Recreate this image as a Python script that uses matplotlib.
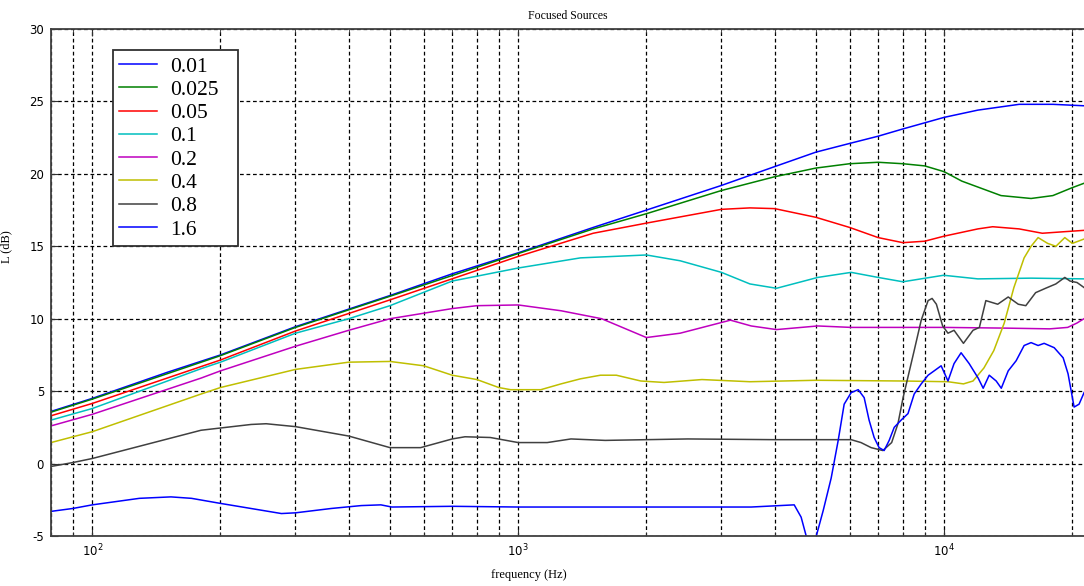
import numpy as np
import matplotlib.pyplot as plt
from matplotlib.ticker import LogLocator, NullFormatter, MultipleLocator

plt.rcParams['axes.unicode_minus'] = False

# source sizes (legend) and MATLAB-style colours
labels = ['0.01', '0.025', '0.05', '0.1', '0.2', '0.4', '0.8', '1.6']
colors = ['#0000ff', '#008000', '#ff0000', '#00bfbf', '#bf00bf', '#bfbf00', '#404040', '#0000ff']

# curves: frequency (Hz) and level L (dB)
f_001 = [80, 100, 150, 200, 300, 500, 700, 1000, 1500, 2000, 3000, 4000, 5000, 6000,
         7000, 8000, 10000, 12000, 15000, 18000, 21300]
L_001 = [3.6, 4.5, 6.3, 7.5, 9.45, 11.6, 13.1, 14.55, 16.3, 17.5, 19.2, 20.5, 21.5, 22.1,
         22.6, 23.1, 23.9, 24.4, 24.8, 24.8, 24.7]

f_0025 = [80, 100, 200, 300, 500, 1000, 1500, 2000, 3000, 4000, 5000, 6000, 7000, 8000,
          9000, 10000, 11000, 13600, 16000, 18000, 20000, 21300]
L_0025 = [3.55, 4.45, 7.45, 9.4, 11.55, 14.5, 16.2, 17.25, 18.85, 19.8, 20.4, 20.7, 20.8, 20.7,
          20.55, 20.15, 19.5, 18.5, 18.3, 18.5, 19.05, 19.35]

f_005 = [80, 100, 200, 300, 500, 1000, 1500, 2000, 3000, 3500, 4000, 5000, 6000, 7000,
         8000, 9000, 10000, 12000, 13000, 15000, 17000, 19000, 21300]
L_005 = [3.3, 4.15, 7.15, 9.15, 11.3, 14.3, 15.9, 16.6, 17.55, 17.65, 17.6, 17.0, 16.3, 15.6,
         15.25, 15.35, 15.7, 16.2, 16.35, 16.2, 15.9, 16.0, 16.1]

f_01 = [80, 100, 180, 200, 300, 400, 500, 700, 1000, 1400, 2000, 2400, 3000, 3500, 4040,
        5050, 6050, 7000, 8000, 9970, 12000, 16000, 21300]
L_01 = [3.0, 3.8, 6.55, 7.0, 9.0, 10.0, 10.9, 12.6, 13.5, 14.2, 14.4, 14.0, 13.2, 12.4, 12.1,
        12.85, 13.2, 12.85, 12.55, 13.0, 12.75, 12.8, 12.75]

f_02 = [80, 100, 180, 200, 300, 400, 500, 700, 800, 1000, 1260, 1570, 2000, 2400, 3150,
        3524, 4040, 5050, 6050, 8000, 10000, 14000, 17700, 19500, 20500, 21300]
L_02 = [2.6, 3.4, 5.9, 6.4, 8.1, 9.2, 10.0, 10.7, 10.9, 10.95, 10.55, 10.0, 8.7, 9.0, 9.9,
        9.5, 9.25, 9.5, 9.4, 9.4, 9.4, 9.35, 9.3, 9.4, 9.7, 10.0]

f_04 = [80, 100, 180, 200, 300, 400, 500, 600, 700, 800, 900, 960, 1130, 1260, 1400, 1560,
        1700, 1940, 2200, 2700, 3500, 5000, 8000, 10210, 11100, 11690, 12400, 13080, 13840,
        14580, 15410, 16000, 16620, 17500, 18300, 19200, 20000, 21300]
L_04 = [1.45, 2.2, 4.8, 5.25, 6.5, 7.0, 7.05, 6.75, 6.1, 5.8, 5.25, 5.1, 5.1, 5.5, 5.85, 6.1,
        6.1, 5.7, 5.6, 5.8, 5.65, 5.75, 5.7, 5.65, 5.5, 5.7, 6.6, 7.8, 9.7,
        12.15, 14.2, 15.0, 15.6, 15.2, 15.0, 15.6, 15.2, 15.5]

f_08 = [80, 90, 100, 180, 236, 256, 300, 400, 500, 590, 700, 750, 860, 1000, 1170, 1330,
        1600, 2500, 4000, 6050, 6380, 6740, 7180, 7530, 7790, 8010, 8505, 8835, 9170, 9370,
        9590, 9920, 10210, 10550, 11100, 11690, 12100, 12530, 13360, 14140, 14930, 15550,
        16400, 17300, 18290, 19200, 19750, 20510, 21310]
L_08 = [-0.2, 0.07, 0.35, 2.3, 2.7, 2.75, 2.55, 1.9, 1.1, 1.1, 1.7, 1.85, 1.8, 1.45, 1.45, 1.7,
        1.6, 1.7, 1.65, 1.65, 1.45, 1.1, 0.9, 1.45, 2.75, 4.55, 7.8, 9.9, 11.25, 11.4,
        11.0, 9.5, 9.0, 9.2, 8.3, 9.2, 9.4, 11.25, 11.0, 11.5, 11.0, 10.9,
        11.8, 12.1, 12.4, 12.85, 12.6, 12.5, 12.15]

f_16 = [80, 90, 100, 129, 153, 171, 200, 278, 300, 364, 428, 476, 505, 700, 1000, 2000,
        3524, 4446, 4616, 4744, 4870, 5010, 5200, 5430, 5640, 5825, 6050, 6285, 6490, 6665,
        6850, 7035, 7230, 7430, 7635, 7925, 8225, 8505, 8835, 9170, 9475, 9840, 10210,
        10550, 10960, 11450, 12020, 12350, 12760, 13250, 13620, 14140, 14760, 15410, 16000,
        16620, 17170, 18130, 19030, 19540, 20190, 20740, 21310]
L_16 = [-3.3, -3.1, -2.85, -2.4, -2.3, -2.4, -2.75, -3.45, -3.4, -3.1, -2.9, -2.85, -3.0,
        -2.95, -3.0, -3.0, -3.0, -2.85, -3.7, -5.0, -6.0, -5.0, -3.25, -1.0, 1.6, 4.1, 4.9,
        5.1, 4.55, 3.0, 1.8, 1.1, 0.9, 1.6, 2.5, 3.0, 3.45, 4.8, 5.5, 6.1, 6.4, 6.75, 5.7,
        6.9, 7.65, 6.9, 5.9, 5.2, 6.1, 5.7, 5.2, 6.4, 7.1, 8.15, 8.35, 8.15, 8.3, 8.0, 7.3,
        6.2, 3.9, 4.1, 4.9]

freqs = [f_001, f_0025, f_005, f_01, f_02, f_04, f_08, f_16]
levels = [L_001, L_0025, L_005, L_01, L_02, L_04, L_08, L_16]

fig = plt.figure(figsize=(10.84, 5.86), dpi=100)
ax = fig.add_axes([51 / 1084, 50 / 586, 1033 / 1084, 507 / 586])

for f, L, lab, c in zip(freqs, levels, labels, colors):
    ax.plot(f, L, color=c, lw=1.1, label=lab)

ax.set_xscale('log')
ax.set_xlim(80, 21300)
ax.set_ylim(-5, 30)
ax.yaxis.set_major_locator(MultipleLocator(5))
ax.xaxis.set_major_locator(LogLocator(base=10))
ax.xaxis.set_minor_locator(LogLocator(base=10, subs=np.arange(2, 10)))
ax.xaxis.set_minor_formatter(NullFormatter())

grid_kw = dict(color='black', linestyle=(0, (3, 2.2)), linewidth=0.9)
ax.grid(True, which='major', axis='both', **grid_kw)
ax.grid(True, which='minor', axis='x', **grid_kw)

ax.tick_params(which='both', direction='in', top=True, right=False, color='#303030')
ax.tick_params(which='major', length=5, labelsize=8.5, pad=5)
ax.tick_params(which='minor', length=3)
for side in ['left', 'bottom', 'top']:
    ax.spines[side].set_color('#404040')
    ax.spines[side].set_linewidth(1.3)
ax.spines['right'].set_visible(False)

serif = ['Liberation Serif', 'DejaVu Serif']
ax.set_title('Focused Sources', fontsize=8.5, family=serif, pad=7)
ax.set_xlabel('frequency (Hz)', fontsize=9, family=serif)
ax.set_ylabel('L (dB)', fontsize=9, family=serif)
ax.xaxis.set_label_coords(0.463, -0.066)
ax.yaxis.set_label_coords(-0.037, 0.57)

# legend box spans x 113..238 px, y 50..244 px of the figure
leg = ax.legend(loc='upper left', mode='expand',
                bbox_to_anchor=(62 / 1033, 292 / 507, 125 / 1033, 194 / 507),
                prop={'family': serif, 'size': 15.5}, frameon=True, fancybox=False,
                handlelength=1.75, handletextpad=0.6, labelspacing=0.15,
                borderpad=0.3, borderaxespad=0)
leg.get_frame().set_edgecolor('#303030')
leg.get_frame().set_linewidth(1.3)
leg.get_frame().set_alpha(1)

fig.savefig('out.png', dpi=100)
